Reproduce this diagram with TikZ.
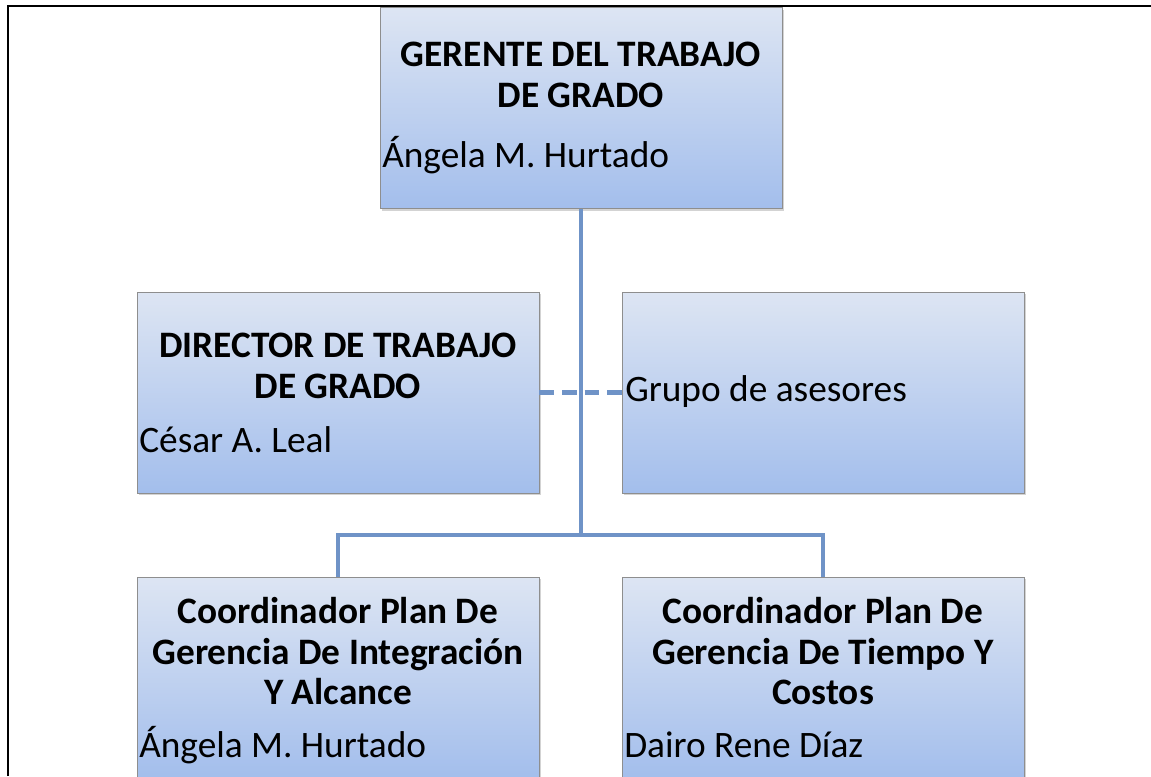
\documentclass[tikz,border=0pt]{standalone}
\usepackage{fontspec}
\setmainfont{Carlito}
\usetikzlibrary{shadows,positioning}

\definecolor{boxtop}{HTML}{DDE5F3}
\definecolor{boxbot}{HTML}{A3BEEC}
\definecolor{boxline}{HTML}{8E8E8E}
\definecolor{linkblue}{HTML}{6F93C7}

\begin{document}
\begin{tikzpicture}[x=0.75pt,y=-0.75pt]
	\tikzset{
	rolebox/.style={rectangle, draw=boxline, line width=0.6pt, top color=boxtop, bottom color=boxbot,
		minimum width=301.5pt, minimum height=150.75pt, inner sep=0pt,
		drop shadow={shadow xshift=1.5pt, shadow yshift=-1.5pt, opacity=0.35}},
	title/.style={font=\fontsize{28}{30.5}\selectfont\bfseries, align=center, anchor=north, inner sep=0pt},
	person/.style={font=\fontsize{28}{30.5}\selectfont, anchor=base west, inner sep=0pt},
	link/.style={draw=linkblue, line width=3.5pt}}

	\useasboundingbox (0,0) rectangle (1151,776);
	\draw[line width=1.8pt] (8,776) -- (8,6) -- (1151,6);

	%boxes
	\node[rolebox] (gerente) at (581,108) {};
	\node[rolebox] (director) at (338,392.5) {};
	\node[rolebox] (asesores) at (823,392.5) {};
	\node[rolebox] (integracion) at (338,677.5) {};
	\node[rolebox] (tiempo) at (823,677.5) {};

	%links
	\coordinate (fork) at (581,535);
	\draw[link] (gerente.south) -- (fork);
	\draw[link] (integracion.north) |- (fork) -| (tiempo.north);
	\draw[link, dash pattern=on 11pt off 6pt] (director.east) -- (asesores.west);

	%texts
	\node[title] (gerenteT) at (581,42) {GERENTE DEL TRABAJO\\DE GRADO};
	\node[person] (gerenteP) at (382,167) {Ángela M. Hurtado};

	\node[title] (directorT) at (338,333) {DIRECTOR DE TRABAJO\\DE GRADO};
	\node[person] (directorP) at (139,452) {César A. Leal};

	\node[person] (asesoresP) at (625,401) {Grupo de asesores};

	\node[title] (integracionT) at (338,597) {Coordinador Plan De\\Gerencia De Integración\\Y Alcance};
	\node[person] (integracionP) at (139,757) {Ángela M. Hurtado};

	\node[title] (tiempoT) at (823,597) {Coordinador Plan De\\Gerencia De Tiempo Y\\Costos};
	\node[person] (tiempoP) at (624,757) {Dairo Rene Díaz};
\end{tikzpicture}
\end{document}
